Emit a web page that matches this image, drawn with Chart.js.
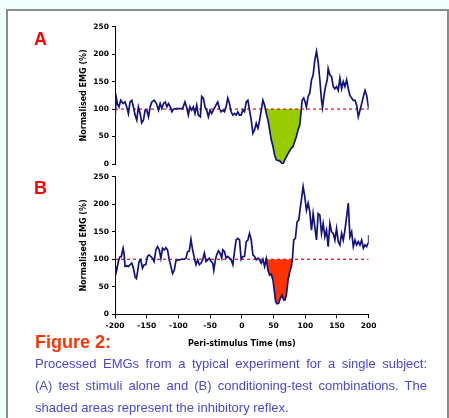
<!DOCTYPE html>
<html>
<head>
<meta charset="utf-8">
<script src="https://cdn.jsdelivr.net/npm/chart.js@4.4.0/dist/chart.umd.min.js"></script>
<style>
  body { margin: 0; background: #effffe; width: 449px; height: 418px; overflow: hidden; position: relative; font-family: "Liberation Sans", Arial, sans-serif; }
  #panel { position: absolute; left: 6px; top: 9px; width: 439px; height: 420px; border: 2px solid #8c8c8c; border-bottom: none; background: #fff; }
  canvas { position: absolute; left: 0; }
  .tag { position: absolute; left: 34px; color: #ff0000; font-weight: bold; font-size: 18px; line-height: 18px; }
  #fig { position: absolute; left: 35px; top: 333px; color: #ff3300; font-weight: bold; font-size: 18px; line-height: 18px; }
  #caption { position: absolute; left: 35px; top: 353px; width: 392px; color: #4848d0; font-size: 13px; line-height: 22px; }
  #caption .j { text-align: justify; text-align-last: justify; }
</style>
</head>
<body>
<div id="panel"></div>
<canvas id="chartA" width="449" height="175" style="top:0"></canvas>
<canvas id="chartB" width="449" height="185" style="top:165px"></canvas>
<div class="tag" style="top:30px">A</div>
<div class="tag" style="top:179px">B</div>
<div id="fig">Figure 2:</div>
<div id="caption">
  <div class="j">Processed EMGs from a typical experiment for a single subject:</div>
  <div class="j">(A) test stimuli alone and (B) conditioning-test combinations. The</div>
  <div>shaded areas represent the inhibitory reflex.</div>
</div>

<script>
// peri-stimulus time (ms) and normalised EMG (%)
const timeA = [
  -200, -197.9, -196.3, -193.7, -191.0, -187.3, -184.2, -181.5, -178.9, -176.3,
  -173.6, -171.0, -168.3, -165.7, -163.1, -160.4, -157.8, -155.1, -152.5, -149.9,
  -147.2, -144.6, -142.0, -138.3, -134.6, -131.4, -128.8, -126.1, -123.5, -120.8,
  -118.2, -115.6, -112.9, -110.3, -107.7, -104.0, -98.7, -93.4, -89.7, -87.1,
  -84.4, -81.8, -79.2, -76.5, -73.9, -71.2, -68.6, -65.4, -63.3, -60.7,
  -58.0, -55.4, -52.8, -50.1, -47.5, -44.9, -42.2, -39.6, -38.0, -35.4,
  -32.7, -30.1, -27.4, -24.8, -22.2, -19.5, -16.9, -14.2, -11.6, -9.0,
  -6.3, -3.7, -1.1, 1.6, 4.2, 6.9, 9.5, 12.1, 14.8, 17.4,
  20.0, 22.7, 25.3, 28.0, 30.6, 33.2, 35.9, 38.5, 41.2, 43.8,
  46.4, 49.1, 51.7, 54.3, 57.0, 59.6, 62.3, 64.9, 67.5, 70.2,
  72.8, 75.5, 78.1, 80.7, 83.4, 86.0, 88.6, 91.3, 92.9, 95.0,
  97.6, 99.7, 101.8, 104.5, 107.1, 109.8, 112.4, 115.0, 117.7, 120.3,
  123.0, 125.6, 127.2, 129.3, 131.9, 134.6, 136.1, 138.8, 141.4, 144.1,
  146.7, 149.3, 152.0, 154.6, 157.3, 159.9, 162.5, 165.2, 167.8, 170.4,
  173.1, 175.7, 178.4, 181.0, 183.6, 186.3, 188.9, 191.6, 194.2, 196.8,
  200
];
const emgA = [
  83, 120, 110, 104, 116, 110, 113, 104, 92, 113,
  116, 104, 89, 80, 104, 92, 75, 80, 98, 98,
  86, 104, 113, 116, 110, 98, 110, 101, 110, 113,
  104, 110, 104, 95, 100, 101, 101, 101, 113, 104,
  89, 104, 98, 104, 92, 107, 89, 86, 123, 120,
  104, 98, 86, 98, 92, 98, 104, 110, 113, 101,
  95, 98, 95, 104, 120, 110, 95, 89, 92, 89,
  95, 89, 89, 98, 95, 113, 116, 98, 80, 56,
  62, 74, 65, 80, 98, 116, 107, 92, 80, 62,
  44, 32, 16, 8, 6, 6, 2, 0, 7, 13,
  19, 24, 29, 32, 41, 50, 62, 71, 89, 116,
  120, 113, 104, 123, 129, 153, 162, 189, 205, 186,
  153, 116, 103, 123, 141, 153, 174, 162, 159, 141,
  137, 141, 134, 156, 137, 150, 141, 153, 137, 125,
  120, 116, 116, 107, 86, 98, 110, 123, 134, 125,
  101
];

const timeB = [
  -200, -198.9, -197.4, -194.7, -192.6, -190.0, -187.3, -185.8, -184.2, -181.5,
  -178.9, -176.3, -173.6, -171.0, -168.3, -166.2, -164.1, -162.0, -159.4, -156.7,
  -154.1, -151.5, -148.8, -146.2, -143.5, -140.9, -138.3, -135.6, -133.0, -130.3,
  -127.7, -125.1, -122.4, -119.8, -117.2, -114.5, -111.9, -109.2, -106.6, -104.0,
  -101.3, -98.7, -94.5, -90.8, -88.1, -85.5, -82.9, -80.2, -77.6, -74.9,
  -72.3, -69.7, -67.0, -64.4, -61.7, -59.1, -56.5, -53.8, -51.2, -48.6,
  -45.9, -44.3, -41.7, -39.6, -36.9, -34.3, -31.7, -30.1, -27.4, -24.8,
  -22.2, -19.5, -16.9, -14.2, -11.6, -9.0, -6.3, -3.7, -1.1, 1.6,
  4.2, 6.9, 9.5, 12.1, 14.8, 17.4, 20.0, 22.7, 25.3, 28.0,
  30.6, 33.2, 35.9, 38.5, 41.2, 43.8, 46.4, 49.1, 51.7, 53.3,
  55.4, 58.0, 60.7, 63.3, 65.9, 68.1, 70.2, 72.8, 75.5, 78.1,
  79.7, 81.8, 84.4, 87.1, 89.7, 92.3, 93.9, 96.6, 99.2, 101.8,
  104.5, 107.1, 109.8, 112.4, 115.0, 117.7, 120.3, 123.0, 125.6, 128.2,
  130.9, 133.5, 136.1, 138.8, 141.4, 144.1, 146.7, 149.3, 152.0, 154.6,
  157.3, 159.9, 162.5, 165.2, 167.8, 170.4, 173.1, 175.7, 178.4, 181.0,
  183.6, 186.3, 188.9, 191.6, 194.2, 196.8, 198.9, 200
];
const emgB = [
  87, 73, 80, 96, 104, 105, 120, 111, 87, 88,
  87, 90, 93, 84, 68, 65, 80, 96, 99, 84,
  90, 90, 105, 108, 105, 102, 96, 117, 123, 117,
  102, 120, 117, 121, 117, 99, 87, 74, 80, 97,
  99, 99, 100, 100, 102, 114, 115, 136, 117, 102,
  90, 99, 90, 93, 99, 111, 96, 99, 102, 96,
  93, 80, 99, 108, 115, 111, 102, 117, 114, 102,
  105, 102, 99, 90, 114, 135, 138, 135, 100, 105,
  105, 132, 135, 147, 135, 108, 105, 99, 102, 99,
  93, 100, 87, 101, 80, 71, 73, 62, 38, 23,
  19, 20, 29, 35, 26, 26, 35, 62, 77, 87,
  100, 135, 138, 168, 171, 195, 208, 232, 214, 189,
  202, 186, 153, 183, 159, 135, 183, 180, 147, 165,
  141, 153, 123, 165, 150, 147, 135, 156, 132, 126,
  147, 135, 153, 177, 202, 141, 150, 123, 135, 126,
  132, 126, 135, 120, 126, 123, 129, 144
];

// start / end (ms) of the shaded inhibitory area
const shadeA = [37.1, 93.8];
const shadeB = [38.6, 79.7];
const baseline = 100;

const tickFont = { family: "DejaVu Sans", weight: "bold", size: 7.5 };
const titleFont = { family: "DejaVu Sans", weight: "bold", size: 8 };

function toPoints(times, values) {
    return times.map((t, i) => ({ x: t, y: values[i] }));
}

/** points of the trace between the two crossings, closed on the baseline */
function shadePoints(times, values, range) {
    const pts = [{ x: range[0], y: baseline }];
    times.forEach((t, i) => {
        if (t > range[0] && t < range[1]) pts.push({ x: t, y: values[i] });
    });
    pts.push({ x: range[1], y: baseline });
    return pts;
}

function makeChart(id, times, values, range, fillColor, showX, pad) {
    const ctx = document.getElementById(id).getContext("2d");
    const xScale = {
        type: "linear",
        min: -200,
        max: 200,
        display: showX,
        ticks: { stepSize: 50, font: tickFont, color: "#000", padding: 3, maxRotation: 0 },
        grid: { drawOnChartArea: false, tickLength: 4, color: "#000" },
        border: { color: "#000", width: 1 },
        title: {
            display: true,
            text: "Peri-stimulus Time (ms)",
            font: titleFont,
            color: "#000",
            padding: { top: 0, bottom: 1.2 },
        },
    };
    if (showX) {
        xScale.afterFit = (s) => { s.height = 35.7; };
    }
    return new Chart(ctx, {
        type: "line",
        data: {
            datasets: [
                {
                    data: toPoints(times, values),
                    borderColor: "#12127c",
                    borderWidth: 1.7,
                    pointRadius: 0,
                    fill: false,
                    order: 0,
                },
                {
                    data: [{ x: -200, y: baseline }, { x: 200, y: baseline }],
                    borderColor: "#ff0000",
                    borderWidth: 1.2,
                    borderDash: [3, 3],
                    pointRadius: 0,
                    fill: false,
                    order: 1,
                },
                {
                    data: shadePoints(times, values, range),
                    borderWidth: 0,
                    borderColor: "rgba(0,0,0,0)",
                    pointRadius: 0,
                    fill: { value: baseline, above: "rgba(0,0,0,0)", below: fillColor },
                    order: 2,
                },
            ],
        },
        options: {
            responsive: false,
            animation: false,
            layout: { padding: pad },
            plugins: { legend: { display: false }, tooltip: { enabled: false } },
            scales: {
                x: xScale,
                y: {
                    min: 0,
                    max: 250,
                    afterFit: (s) => { s.width = 39; },
                    ticks: { stepSize: 50, font: tickFont, color: "#000", padding: 3 },
                    grid: { drawOnChartArea: false, tickLength: 3, color: "#000" },
                    border: { color: "#000", width: 1 },
                    title: {
                        display: true,
                        text: "Normalised EMG (%)",
                        font: titleFont,
                        color: "#000",
                        padding: { top: 3, bottom: 0 },
                    },
                },
            },
        },
    });
}

makeChart("chartA", timeA, emgA, shadeA, "#99cc00", false,
    { left: 76, right: 80.3, top: 26.7, bottom: 11 });
makeChart("chartB", timeB, emgB, shadeB, "#ff3300", true,
    { left: 76, right: 80.3, top: 11.7, bottom: 0 });
</script>
</body>
</html>
